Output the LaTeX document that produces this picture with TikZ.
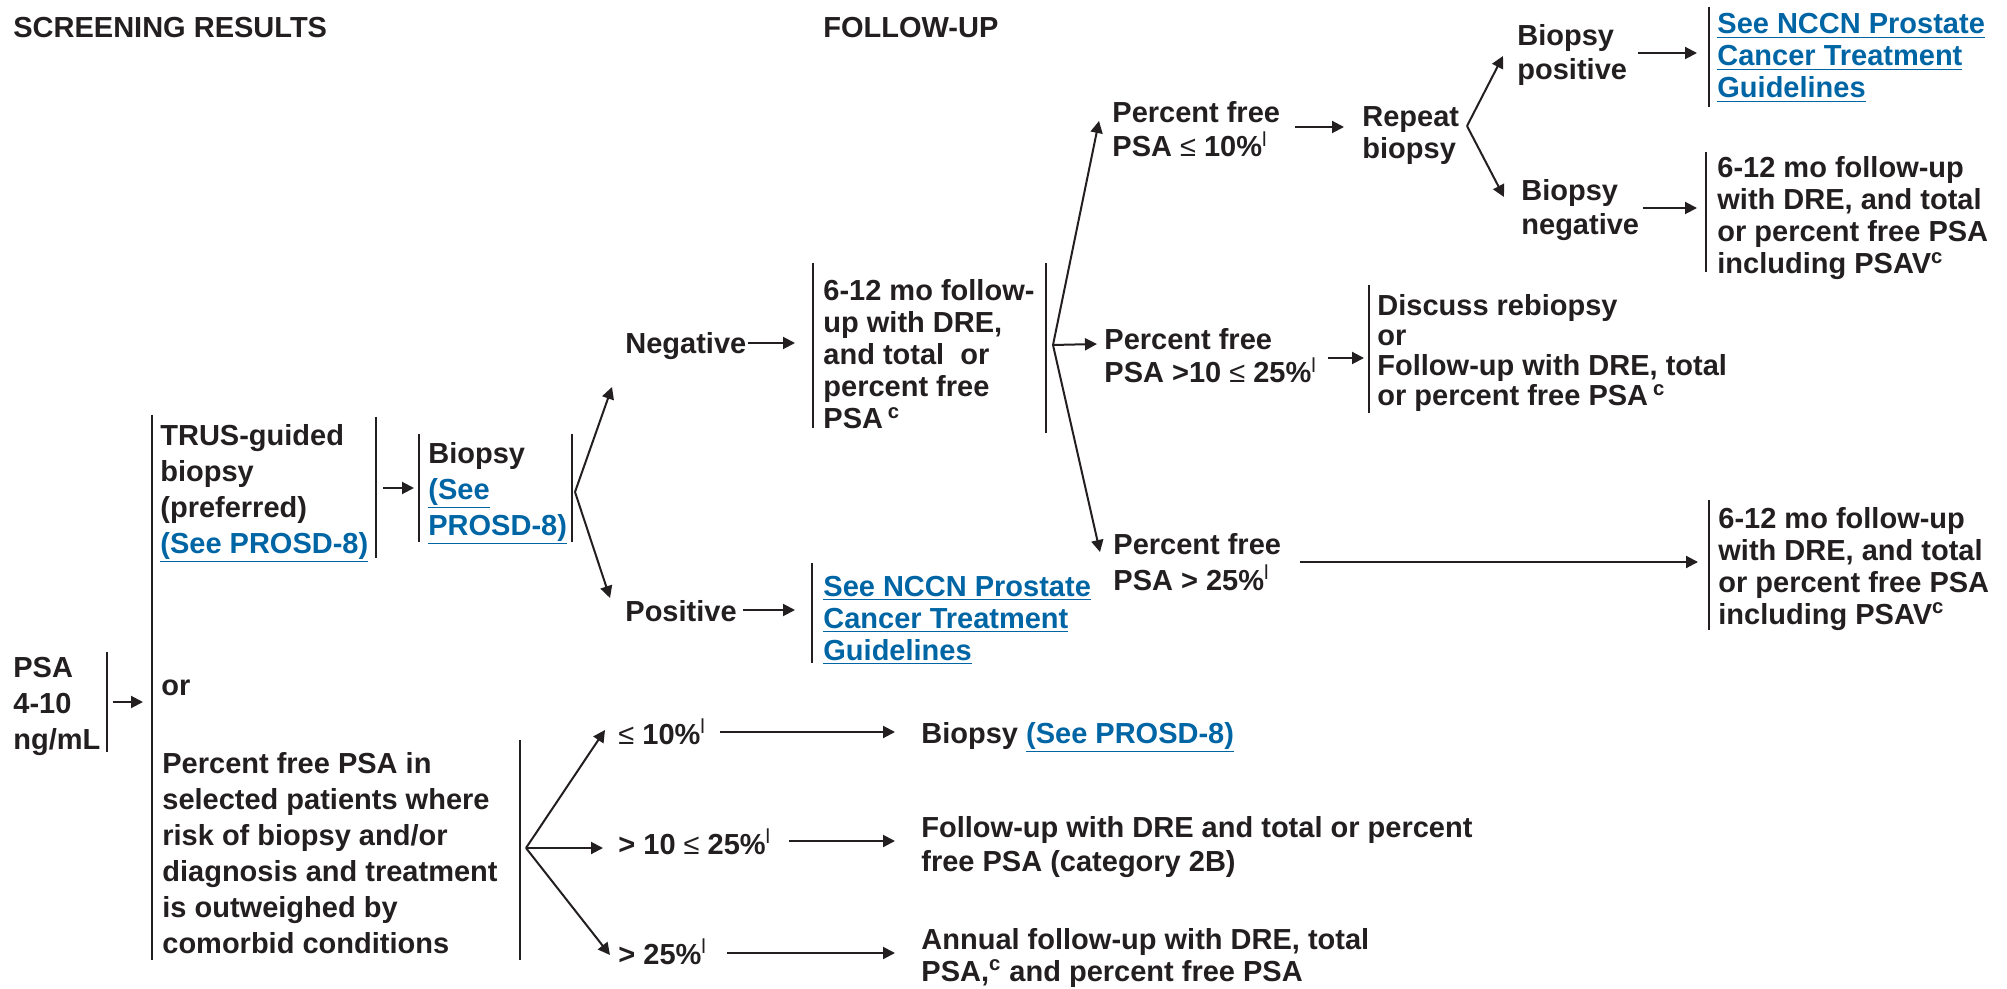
\documentclass[tikz,border=0pt]{standalone}
\usepackage{fontspec}
\setmainfont{Liberation Sans}
\usetikzlibrary{arrows.meta}
\definecolor{ink}{HTML}{231F20}
\definecolor{lnkc}{RGB}{0,101,164}
\newcommand\lnk[1]{{\color{lnkc}\underline{#1}}}
\newcommand\leqs{{\mdseries\char"2264}}
\newcommand\supl{\textsuperscript{\mdseries l}}
\newcommand\supc{\textsuperscript{c}}
\begin{document}
\begin{tikzpicture}[x=0.5pt,y=-0.5pt,
  txt/.style={font=\fontsize{14.5}{18}\selectfont\bfseries, text=ink, inner sep=0pt, anchor=base west, align=left},
  lsA/.style={font=\fontsize{14.5}{16}\selectfont\bfseries},
  lsB/.style={font=\fontsize{14.5}{17}\selectfont\bfseries},
  lsC/.style={font=\fontsize{14.5}{15}\selectfont\bfseries},
  bar/.style={draw=ink, line width=1pt},
  arr/.style={draw=ink, line width=1pt, -{Triangle[length=6pt,width=6pt]}}]
\useasboundingbox (0,0) rectangle (2007,989);
% note: multi-line nodes are placed at the baseline of their last line

% headers
\node[txt] (hs) at (13,38) {SCREENING RESULTS};
\node[txt] (hf) at (823,38) {FOLLOW-UP};

% left column
\node[txt] (psa) at (13,749) {PSA\\4-10\\ng/mL};
\coordinate (psaT) at (107,652); \coordinate (psaB) at (107,752);
\draw[bar] (psaT) -- (psaB);
\coordinate (a1s) at (113,702); \coordinate (a1e) at (143,702);
\draw[arr] (a1s) -- (a1e);
\coordinate (bigT) at (152,415); \coordinate (bigB) at (152,960);
\draw[bar] (bigT) -- (bigB);

\node[txt] (trus) at (160,553) {TRUS-guided\\biopsy\\(preferred)\\\lnk{(See PROSD-8)}};
\coordinate (trusT) at (376,417); \coordinate (trusB) at (376,558);
\draw[bar] (trusT) -- (trusB);
\coordinate (a2s) at (383,488); \coordinate (a2e) at (414,488);
\draw[arr] (a2s) -- (a2e);
\coordinate (bxLT) at (419,434); \coordinate (bxLB) at (419,542);
\draw[bar] (bxLT) -- (bxLB);
\node[txt] (bx) at (428,535) {Biopsy\\\lnk{(See}\\\lnk{PROSD-8)}};
\coordinate (bxRT) at (572,434); \coordinate (bxRB) at (572,542);
\draw[bar] (bxRT) -- (bxRB);
\coordinate (f1) at (575,492);
\coordinate (f1a) at (612,387); \coordinate (f1b) at (610,598);
\draw[arr] (f1) -- (f1a);
\draw[arr] (f1) -- (f1b);

\node[txt] (or) at (161,695) {or};
\node[txt] (pf) at (162,953) {Percent free PSA in\\selected patients where\\risk of biopsy and/or\\diagnosis and treatment\\is outweighed by\\comorbid conditions};
\coordinate (pfT) at (520,740); \coordinate (pfB) at (520,960);
\draw[bar] (pfT) -- (pfB);
\coordinate (f2) at (526,848);
\coordinate (f2a) at (605,730); \coordinate (f2b) at (603,848); \coordinate (f2c) at (610,955);
\draw[arr] (f2) -- (f2a);
\draw[arr] (f2) -- (f2b);
\draw[arr] (f2) -- (f2c);

% negative / positive
\node[txt] (neg) at (625,354) {Negative};
\coordinate (a3s) at (748,343); \coordinate (a3e) at (795,343);
\draw[arr] (a3s) -- (a3e);
\coordinate (fu1LT) at (813,263); \coordinate (fu1LB) at (813,428);
\draw[bar] (fu1LT) -- (fu1LB);
\node[txt,lsA] (fu1) at (823,429) {6-12 mo follow-\\up with DRE,\\and total~ or\\percent free\\PSA\,\supc};
\coordinate (fu1RT) at (1046,263); \coordinate (fu1RB) at (1046,433);
\draw[bar] (fu1RT) -- (fu1RB);
\coordinate (f3) at (1053,345);
\coordinate (f3a) at (1099,121); \coordinate (f3b) at (1097,344); \coordinate (f3c) at (1100,552);
\draw[arr] (f3) -- (f3a);
\draw[arr] (f3) -- (f3b);
\draw[arr] (f3) -- (f3c);

\node[txt] (pos) at (625,621) {Positive};
\coordinate (a4s) at (743,610); \coordinate (a4e) at (795,610);
\draw[arr] (a4s) -- (a4e);
\coordinate (n1T) at (812,563); \coordinate (n1B) at (812,663);
\draw[bar] (n1T) -- (n1B);
\node[txt,lsA] (nccn1) at (823,660) {\lnk{See NCCN Prostate}\\\lnk{Cancer Treatment}\\\lnk{Guidelines}};

% upper right branch
\node[txt,lsB] (pf10) at (1112,157) {Percent free\\PSA \leqs{} 10\%\supl};
\coordinate (a5s) at (1295,127); \coordinate (a5e) at (1344,127);
\draw[arr] (a5s) -- (a5e);
\node[txt,lsA] (rep) at (1362,159) {Repeat\\biopsy};
\coordinate (f4) at (1467,126);
\coordinate (f4a) at (1503,56); \coordinate (f4b) at (1504,197);
\draw[arr] (f4) -- (f4a);
\draw[arr] (f4) -- (f4b);
\node[txt,lsB] (bpos) at (1517,80) {Biopsy\\positive};
\coordinate (a6s) at (1638,53); \coordinate (a6e) at (1697,53);
\draw[arr] (a6s) -- (a6e);
\coordinate (n2T) at (1709,7); \coordinate (n2B) at (1709,107);
\draw[bar] (n2T) -- (n2B);
\node[txt,lsA] (nccn2) at (1717,98) {\lnk{See NCCN Prostate}\\\lnk{Cancer Treatment}\\\lnk{Guidelines}};
\node[txt,lsB] (bneg) at (1521,235) {Biopsy\\negative};
\coordinate (a7s) at (1643,208); \coordinate (a7e) at (1697,208);
\draw[arr] (a7s) -- (a7e);
\coordinate (fu2T) at (1706,152); \coordinate (fu2B) at (1706,272);
\draw[bar] (fu2T) -- (fu2B);
\node[txt,lsA] (fu2) at (1717,274) {6-12 mo follow-up\\with DRE, and total\\or percent free PSA\\including PSAV\supc};

% middle branch
\node[txt,lsB] (pf1025) at (1104,383) {Percent free\\PSA >10 \leqs{} 25\%\supl};
\coordinate (a8s) at (1328,358); \coordinate (a8e) at (1364,358);
\draw[arr] (a8s) -- (a8e);
\coordinate (dT) at (1369,285); \coordinate (dB) at (1369,413);
\draw[bar] (dT) -- (dB);
\node[txt,lsC] (disc) at (1377,406) {Discuss rebiopsy\\or\\Follow-up with DRE, total\\or percent free PSA\,\supc};

% lower branch of follow-up
\node[txt] (pf25) at (1113,590) {Percent free\\PSA > 25\%\supl};
\coordinate (a9s) at (1300,562); \coordinate (a9e) at (1698,562);
\draw[arr] (a9s) -- (a9e);
\coordinate (fu3T) at (1709,500); \coordinate (fu3B) at (1709,630);
\draw[bar] (fu3T) -- (fu3B);
\node[txt,lsA] (fu3) at (1718,624) {6-12 mo follow-up\\with DRE, and total\\or percent free PSA\\including PSAV\supc};

% percent free PSA branch
\node[txt] (l10) at (618,744) {\leqs{} 10\%\supl};
\coordinate (b1s) at (720,732); \coordinate (b1e) at (895,732);
\draw[arr] (b1s) -- (b1e);
\node[txt] (r10) at (921,743) {Biopsy \lnk{(See PROSD-8)}};
\node[txt] (l25) at (618,854) {> 10 \leqs{} 25\%\supl};
\coordinate (b2s) at (789,841); \coordinate (b2e) at (895,841);
\draw[arr] (b2s) -- (b2e);
\node[txt,lsB] (r25) at (921,871) {Follow-up with DRE and total or percent\\free PSA (category 2B)};
\node[txt] (lgt) at (618,964) {> 25\%\supl};
\coordinate (b3s) at (727,953); \coordinate (b3e) at (895,953);
\draw[arr] (b3s) -- (b3e);
\node[txt,lsA] (rgt) at (921,981) {Annual follow-up with DRE, total\\PSA,\supc{} and percent free PSA};
\end{tikzpicture}
\end{document}
